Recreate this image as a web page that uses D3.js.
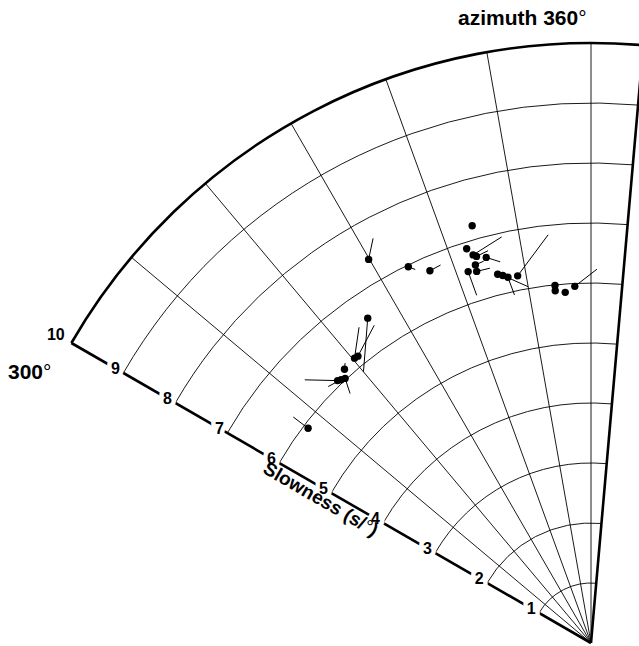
<!DOCTYPE html>
<html>
<head>
<meta charset="utf-8">
<script src="https://cdn.jsdelivr.net/npm/d3@7"></script>
<style>
  body { margin: 0; background: #fff; }
  text { font-family: "Liberation Sans", Arial, sans-serif; }
</style>
</head>
<body>
<script>
// observed points (azimuth in degrees, slowness in s/deg) and the end of each vector
var azimuth     = [329.9, 334.1, 336.6, 344.1, 342.5, 343.1, 343.5, 344.8, 343.0, 341.7, 342.9, 345.8, 346.5, 347.2, 348.7, 354.25, 354.2, 355.8, 357.4, 325.5, 320.9, 320.3, 318.0, 316.0, 317.1, 316.5, 307.2];
var slowness    = [7.39, 6.97, 6.76, 7.23, 6.89, 6.76, 6.72, 6.66, 6.59, 6.52, 6.48, 6.34, 6.30, 6.25, 6.24, 5.99, 5.90, 5.86, 5.95, 6.57, 6.16, 6.17, 6.14, 6.08, 6.02, 6.05, 5.92];
var endAzimuth  = [331.7, 334.8, 338.3, 344.1, 342.5, 347.6, 345.3, 346.6, 344.3, 341.8, 344.9, 345.8, 350.0, 347.6, 354.0, 354.25, 354.2, 355.8, 360.9, 320.0, 325.7, 323.7, 318.7, 312.6, 316.0, 314.3, 307.2];
var endSlowness = [7.66, 6.88, 6.78, 7.23, 6.89, 6.93, 6.76, 6.53, 6.61, 6.10, 6.47, 6.34, 6.03, 5.94, 6.84, 5.99, 5.90, 5.86, 6.23, 5.90, 6.41, 6.53, 6.21, 6.48, 5.78, 6.12, 6.23];

var ringValues = [1, 2, 3, 4, 5, 6, 7, 8, 9];
var spokeValues = [310, 320, 330, 340, 350, 360];
var tickLabels = ["1", "2", "3", "4", "5", "6", "7", "8", "9", "10"];
var azMin = 300, azMax = 365, slowMax = 10;

var w = 639, h = 646;
var cx = 591, cy = 643;

var svg = d3.select("body").append("svg").attr("width", w).attr("height", h);
var g = svg.append("g").attr("transform", "translate(" + cx + "," + cy + ")");

var r = d3.scaleLinear().domain([0, slowMax]).range([0, 600]);
var toRad = d3.scaleLinear().domain([0, 360]).range([0, 2 * Math.PI]);

function px(az, s) { return r(s) * Math.sin(toRad(az)); }
function py(az, s) { return -r(s) * Math.cos(toRad(az)); }

function ringPath(s) {
    var p = d3.path();
    p.arc(0, 0, r(s), toRad(azMin - 90), toRad(azMax - 90), false);
    return p.toString();
}

// grid rings
g.selectAll("path.ring")
    .data(ringValues)
    .enter()
    .append("path")
    .attr("class", "ring")
    .attr("d", ringPath)
    .attr("fill", "none")
    .attr("stroke", "#000")
    .attr("stroke-width", 0.9);

// spokes
g.selectAll("line.spoke")
    .data(spokeValues)
    .enter()
    .append("line")
    .attr("class", "spoke")
    .attr("x1", 0).attr("y1", 0)
    .attr("x2", function(d) { return px(d, slowMax); })
    .attr("y2", function(d) { return py(d, slowMax); })
    .attr("stroke", "#000")
    .attr("stroke-width", 0.9);

// outer frame
g.append("path")
    .attr("d", ringPath(slowMax))
    .attr("fill", "none")
    .attr("stroke", "#000")
    .attr("stroke-width", 2.6);

g.append("line")
    .attr("x1", 0).attr("y1", 0)
    .attr("x2", px(azMax, slowMax)).attr("y2", py(azMax, slowMax))
    .attr("stroke", "#000")
    .attr("stroke-width", 2.6);

g.append("line")
    .attr("x1", 0).attr("y1", 0)
    .attr("x2", px(azMin, slowMax)).attr("y2", py(azMin, slowMax))
    .attr("stroke", "#000")
    .attr("stroke-width", 2.6);

// slowness tick labels on the 300 deg edge, with a white halo to cut the line
g.selectAll("text.tick")
    .data(tickLabels)
    .enter()
    .append("text")
    .attr("class", "tick")
    .attr("x", function(d, i) { return px(azMin, (i + 1) + (i == 9 ? 0.3 : 0.15)); })
    .attr("y", function(d, i) { return py(azMin, (i + 1) + (i == 9 ? 0.3 : 0.15)); })
    .attr("dy", "0.36em")
    .attr("text-anchor", "middle")
    .attr("font-size", 16)
    .attr("font-weight", "bold")
    .attr("stroke", "#fff")
    .attr("stroke-width", 9)
    .attr("stroke-linejoin", "round")
    .attr("paint-order", "stroke")
    .attr("fill", "#000")
    .text(function(d) { return d; });

// vectors
g.selectAll("line.vec")
    .data(azimuth)
    .enter()
    .append("line")
    .attr("class", "vec")
    .attr("x1", function(d, i) { return px(d, slowness[i]); })
    .attr("y1", function(d, i) { return py(d, slowness[i]); })
    .attr("x2", function(d, i) { return px(endAzimuth[i], endSlowness[i]); })
    .attr("y2", function(d, i) { return py(endAzimuth[i], endSlowness[i]); })
    .attr("stroke", "#000")
    .attr("stroke-width", 1);

// points
g.selectAll("circle")
    .data(azimuth)
    .enter()
    .append("circle")
    .attr("cx", function(d, i) { return px(d, slowness[i]); })
    .attr("cy", function(d, i) { return py(d, slowness[i]); })
    .attr("r", 3.7)
    .attr("fill", "#000");

// axis title along the 300 deg edge
var tx = px(azMin, 5.1) - 10 * 0.5, ty = py(azMin, 5.1) + 10 * 0.866;
var title = svg.append("text")
    .attr("transform", "translate(" + (cx + tx) + "," + (cy + ty) + ") rotate(30)")
    .attr("text-anchor", "middle")
    .attr("dy", "0.36em")
    .attr("font-size", 19)
    .attr("font-weight", "bold");
title.append("tspan").text("Slowness (s/");
title.append("tspan").attr("font-weight", "normal").text("°");
title.append("tspan").text(")");

var topLabel = svg.append("text")
    .attr("x", 458).attr("y", 25)
    .attr("font-size", 21)
    .attr("font-weight", "bold");
topLabel.append("tspan").text("azimuth 360");
topLabel.append("tspan").attr("font-weight", "normal").text("°");

var leftLabel = svg.append("text")
    .attr("x", 8).attr("y", 379)
    .attr("font-size", 21)
    .attr("font-weight", "bold");
leftLabel.append("tspan").text("300");
leftLabel.append("tspan").attr("font-weight", "normal").text("°");
</script>
</body>
</html>
